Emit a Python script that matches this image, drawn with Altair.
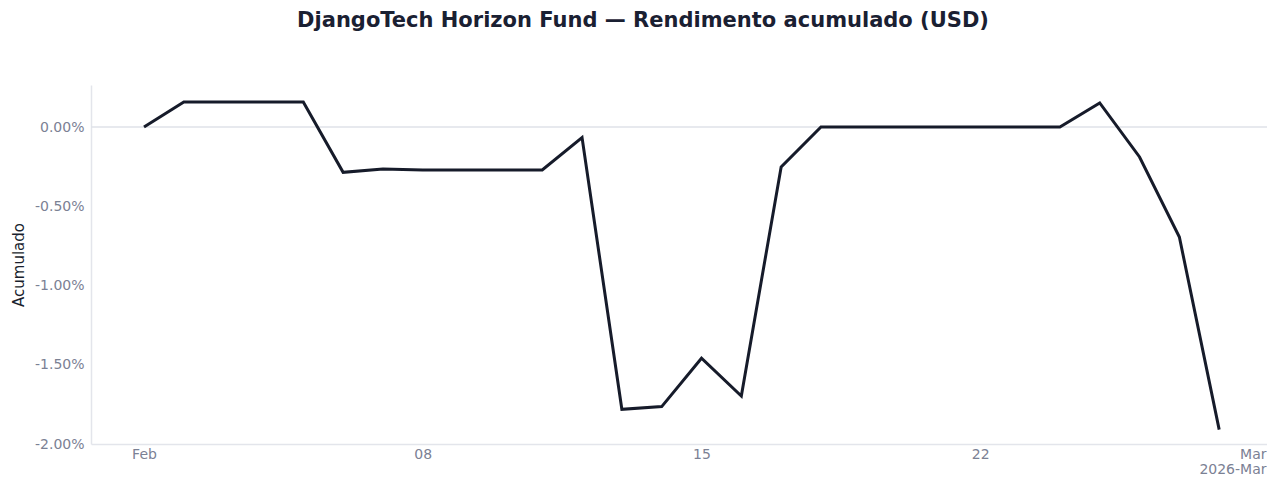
import altair as alt
import pandas as pd

dates = pd.date_range("2026-02-01", "2026-02-28", freq="D").strftime("%Y-%m-%d").tolist()
values_pct = [0.0, 0.158, 0.158, 0.158, 0.158, -0.286, -0.265, -0.271, -0.271, -0.271,
              -0.271, -0.067, -1.781, -1.764, -1.459, -1.697, -0.252, 0.0, 0.0, 0.0,
              0.0, 0.0, 0.0, 0.0, 0.152, -0.189, -0.694, -1.909]
y_ticks = [0, -0.005, -0.01, -0.015, -0.02]

df = pd.DataFrame({"fecha": dates, "acumulado": [v / 100 for v in values_pct]})
zero_df = pd.DataFrame({"acumulado": [0.0]})

FONT = "DejaVu Sans"
LABEL_COLOR = "#7b8194"
AXIS_LINE = "#e3e5eb"

tick_vals = [
    alt.DateTime(year=2026, month=2, date=1, utc=True),
    alt.DateTime(year=2026, month=2, date=8, utc=True),
    alt.DateTime(year=2026, month=2, date=15, utc=True),
    alt.DateTime(year=2026, month=2, date=22, utc=True),
    alt.DateTime(year=2026, month=3, date=1, utc=True),
]

x_scale = alt.Scale(
    type="utc",
    domain=[
        alt.DateTime(year=2026, month=1, date=30, hours=16, minutes=3, utc=True),
        alt.DateTime(year=2026, month=3, date=1, hours=4, minutes=49, utc=True),
    ],
)
y_scale = alt.Scale(domain=[-0.02, 0.00265], nice=False, zero=False)

x_label_expr = (
    "utcdate(datum.value) == 1 ? (utcmonth(datum.value) == 2 ? ['Mar', '2026-Mar'] : "
    "utcFormat(datum.value, '%b')) : utcFormat(datum.value, '%d')"
)
y_label_expr = "replace(format(datum.value, '.2%'), '\u2212', '-')"

y_axis = alt.Axis(
    title="Acumulado",
    values=y_ticks,
    labelExpr=y_label_expr,
    ticks=False,
    grid=False,
    labelPadding=7,
    titleX=-73,
    titleBaseline="middle",
    domainColor=AXIS_LINE,
    domainWidth=1.5,
)

zero_rule = alt.Chart(zero_df).mark_rule(color="#dfe2e8", strokeWidth=1.5).encode(
    y=alt.Y("acumulado:Q", scale=y_scale, axis=y_axis)
)

line = alt.Chart(df).mark_line(color="#161b2a", strokeWidth=3).encode(
    x=alt.X(
        "fecha:T",
        scale=x_scale,
        axis=alt.Axis(
            title=None,
            values=tick_vals,
            labelExpr=x_label_expr,
            labelFlush=15,
            labelFlushOffset=7,
            labelLineHeight=15,
            labelPadding=3,
            ticks=False,
            grid=False,
            domainColor=AXIS_LINE,
            domainWidth=1.5,
        ),
    ),
    y=alt.Y("acumulado:Q", scale=y_scale, axis=y_axis),
)

chart = (
    alt.layer(zero_rule, line)
    .properties(
        width=1176,
        height=359,
        autosize=alt.AutoSizeParams(type="none"),
        padding={"left": 83, "top": 77, "right": 0, "bottom": 31},
        title=alt.TitleParams(
            "DjangoTech Horizon Fund — Rendimento acumulado (USD)",
            font=FONT,
            fontSize=21,
            fontWeight="bold",
            color="#1a2032",
            anchor="middle",
            dx=-36,
            offset=54,
        ),
    )
    .configure_view(stroke=None)
    .configure_axis(
        labelFont=FONT,
        labelFontSize=14,
        labelColor=LABEL_COLOR,
        titleFont=FONT,
        titleFontSize=15,
        titleFontWeight="normal",
        titleColor="#1a1f2e",
    )
)

chart.save("out.html", embed_options={"renderer": "svg", "actions": False})
